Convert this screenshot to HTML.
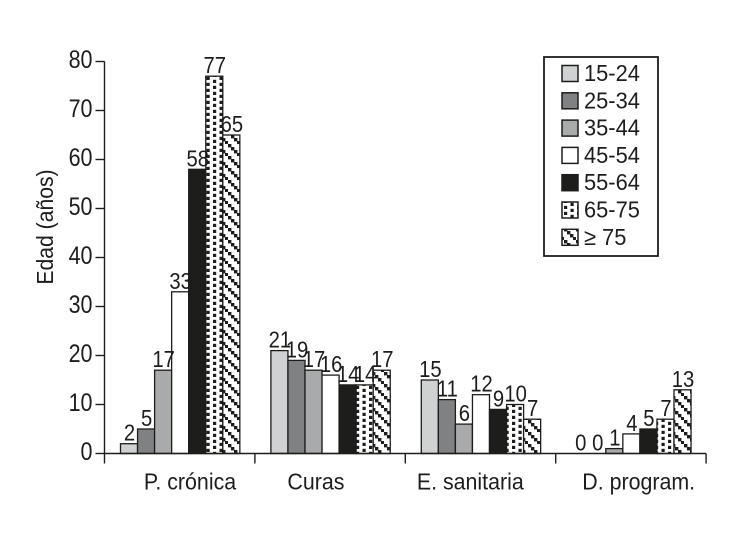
<!DOCTYPE html>
<html>
<head>
<meta charset="utf-8">
<style>
html,body{margin:0;padding:0;background:#fff;width:730px;height:533px;overflow:hidden}
svg{display:block}
text{font-family:"Liberation Sans",sans-serif;fill:#1d1d1b}
</style>
</head>
<body>
<svg id="chart" width="730" height="533" viewBox="0 0 730 533" xmlns="http://www.w3.org/2000/svg">
<defs>
<pattern id="dots" patternUnits="userSpaceOnUse" width="13" height="6" x="206.5" y="76">
<rect width="13" height="6" fill="#fff"/>
<rect x="0" y="0.8" width="3.2" height="3.2" fill="#1d1d1b"/>
<rect x="6.5" y="3.8" width="3.2" height="3.2" fill="#1d1d1b"/>
<rect x="6.5" y="-2.2" width="3.2" height="3.2" fill="#1d1d1b"/>
</pattern>
<pattern id="hatch" patternUnits="userSpaceOnUse" width="12" height="12">
<rect width="12" height="12" fill="#fff"/>
<rect x="0" y="0" width="3.4" height="3.4" fill="#1d1d1b"/>
<rect x="3" y="3" width="3.4" height="3.4" fill="#1d1d1b"/>
<rect x="6" y="6" width="3.4" height="3.4" fill="#1d1d1b"/>
<rect x="9" y="9" width="3" height="3" fill="#1d1d1b"/>
</pattern>
</defs>
</svg>
<script>
var categories = ['P. crónica', 'Curas', 'E. sanitaria', 'D. program.'];
var seriesNames = ['15-24', '25-34', '35-44', '45-54', '55-64', '65-75', '≥ 75'];
var values1524 = [2, 21, 15, 0];
var values2534 = [5, 19, 11, 0];
var values3544 = [17, 17, 6, 1];
var values4554 = [33, 16, 12, 4];
var values5564 = [58, 14, 9, 5];
var values6575 = [77, 14, 10, 7];
var values75 = [65, 17, 7, 13];
var yTicks = [0, 10, 20, 30, 40, 50, 60, 70, 80];

var allSeries = [values1524, values2534, values3544, values4554, values5564, values6575, values75];
var fills = ['#cfd1d2', '#7f8183', '#a8aaac', '#ffffff', '#1d1d1b', 'url(#dots)', 'url(#hatch)'];
var svg = document.getElementById('chart');
var NS = 'http://www.w3.org/2000/svg';
var INK = '#1d1d1b';
var x0 = 104.5, y0 = 453.5, groupW = 150.4, pxPerUnit = 4.9, barW = 17.05, barOffset = 16;
var catOffsets = [85.5, 61, 65, 83];

function yScale(v) { return y0 - v * pxPerUnit; }
function xGroup(i) { return x0 + i * groupW; }
function xBar(g, s) { return xGroup(g) + barOffset + s * barW; }

function line(x1, y1, x2, y2, w) {
  var l = document.createElementNS(NS, 'line');
  l.setAttribute('x1', x1);
  l.setAttribute('y1', y1);
  l.setAttribute('x2', x2);
  l.setAttribute('y2', y2);
  l.setAttribute('stroke', INK);
  l.setAttribute('stroke-width', w || 1.3);
  svg.appendChild(l);
  return l;
}
function rect(x, y, w, h, fill, sw) {
  var r = document.createElementNS(NS, 'rect');
  r.setAttribute('x', x);
  r.setAttribute('y', y);
  r.setAttribute('width', w);
  r.setAttribute('height', h);
  r.setAttribute('fill', fill);
  r.setAttribute('stroke', INK);
  r.setAttribute('stroke-width', sw || 1.3);
  svg.appendChild(r);
  return r;
}
function label(str, x, y, size, sx, anchor) {
  var t = document.createElementNS(NS, 'text');
  t.textContent = str;
  t.setAttribute('font-size', size);
  t.setAttribute('text-anchor', anchor || 'middle');
  t.setAttribute('transform', 'translate(' + x + ' ' + y + ') scale(' + sx + ' 1)');
  svg.appendChild(t);
  return t;
}

// bars
allSeries.forEach(function (vals, s) {
  vals.forEach(function (v, g) {
    if (v > 0) {
      var bar = rect(xBar(g, s), yScale(v), barW, y0 - yScale(v), fills[s]);
      
      
    }
  });
});
allSeries.forEach(function (vals, s) {
  vals.forEach(function (v, g) {
    var vt = label(String(v), xBar(g, s) + barW / 2 + 0.5, yScale(v) - 3, 23, 0.88);
    
    
  });
});

// axes
var yAxis = line(x0, yScale(80), x0, y0 + 10, 1.4);


var xAxis = line(x0, y0, xGroup(categories.length), y0, 1.4);



yTicks.forEach(function (v) {
  var tk = line(x0 - 9, yScale(v), x0, yScale(v), 1.4);
  
  
  var tl = label(String(v), x0 - 12, yScale(v) + 6.5, 25, 0.86, 'end');
  
  
});

categories.forEach(function (c, i) {
  var tk = line(xGroup(i + 1), y0, xGroup(i + 1), y0 + 10, 1.4);
  
  
  var cl = label(c, xGroup(i) + catOffsets[i], y0 + 36, 23, 0.93);
  
  
});

// y title
var yt = document.createElementNS(NS, 'text');
yt.textContent = 'Edad (años)';
yt.setAttribute('font-size', '23');
yt.setAttribute('text-anchor', 'middle');
yt.setAttribute('transform', 'translate(53 227) rotate(-90) scale(0.92 1)');


svg.appendChild(yt);

// legend
var box = rect(544, 57, 114, 199, '#fff', 1.8);


seriesNames.forEach(function (n, i) {
  var y = 65.5 + i * 27.3;
  var sw = rect(562, y, 16, 16, fills[i], 1.5);
  
  
  var lt = label(n, 584, y + 15.5, 23, 0.95, 'start');
  
  
});
</script>
</body>
</html>
